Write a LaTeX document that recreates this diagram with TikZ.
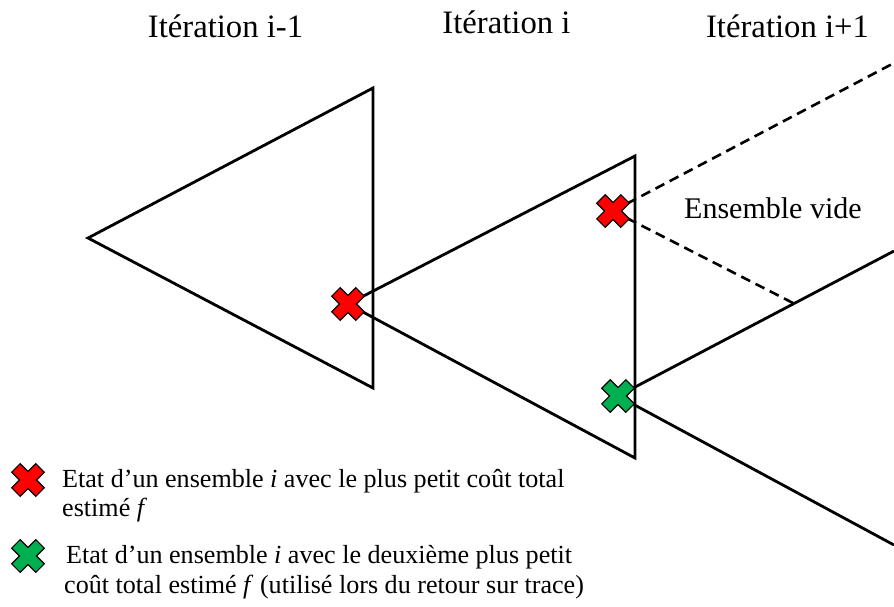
\documentclass[tikz,border=0pt]{standalone}
\usepackage{fontspec}
\setmainfont{Liberation Serif}
\definecolor{xred}{RGB}{255,0,0}
\definecolor{xgreen}{RGB}{0,176,80}
\begin{document}
\begin{tikzpicture}[x=1pt,y=-1pt,
  edge/.style={line width=2.8pt, line join=miter},
  dashedge/.style={line width=2.6pt, dash pattern=on 10pt off 6pt},
  title/.style={font=\fontsize{32.7}{38}\selectfont, anchor=base, inner sep=0pt},
  legend/.style={font=\fontsize{26.1}{31}\selectfont, anchor=base west, inner sep=0pt},
  pics/crossmark/.style={code={
    \filldraw[fill=#1, draw=black, line width=1.1pt, line join=miter, rotate=45]
      (-6,-17)--(6,-17)--(6,-6)--(17,-6)--(17,6)--(6,6)--(6,17)
      --(-6,17)--(-6,6)--(-17,6)--(-17,-6)--(-6,-6)--cycle;}}
]
\useasboundingbox (0,0) rectangle (894,606);

% apexes and corners
\coordinate (A1) at (88,238);
\coordinate (T1) at (373,88);
\coordinate (B1) at (373,388);
\coordinate (A2) at (348,304);
\coordinate (T2) at (635,156);
\coordinate (B2) at (635,458);
\coordinate (A3) at (618,396);
\coordinate (T3) at (894,251);
\coordinate (B3) at (894,545);
\coordinate (D) at (613,211);
\coordinate (DT) at (894,63);
\coordinate (DB) at (794,303.5);

% triangles
\draw[edge] (A1) -- (T1) -- (B1) -- cycle;
\draw[edge] (T2) -- (A2) -- (B2) -- cycle;
\draw[edge] (T3) -- (A3) -- (B3);
\draw[dashedge] (D) -- (DT);
\draw[dashedge] (D) -- (DB);

% crosses
\pic at (A2) {crossmark=xred};
\pic at (D) {crossmark=xred};
\pic at (A3) {crossmark=xgreen};

% titles
\node[title] (t1) at (225.5,37) {Itération i-1};
\node[title] (t2) at (506.5,33) {Itération i};
\node[title] (t3) at (787.5,37) {Itération i+1};

\node[font=\fontsize{30}{35}\selectfont, anchor=base west, inner sep=0pt] (ev) at (684,218) {Ensemble vide};

% legend
\pic at (28,480) {crossmark=xred};
\pic at (28,556) {crossmark=xgreen};
\node[legend] (l1) at (62,487) {Etat d’un ensemble \textit{i} avec le plus petit coût total};
\node[legend] (l2) at (62,516) {estimé \textit{f}};
\node[legend] (l3) at (66,563) {Etat d’un ensemble \textit{i} avec le deuxième plus petit};
\node[legend] (l4) at (64,593) {coût total estimé \textit{f} (utilisé lors du retour sur trace)};
\end{tikzpicture}
\end{document}
